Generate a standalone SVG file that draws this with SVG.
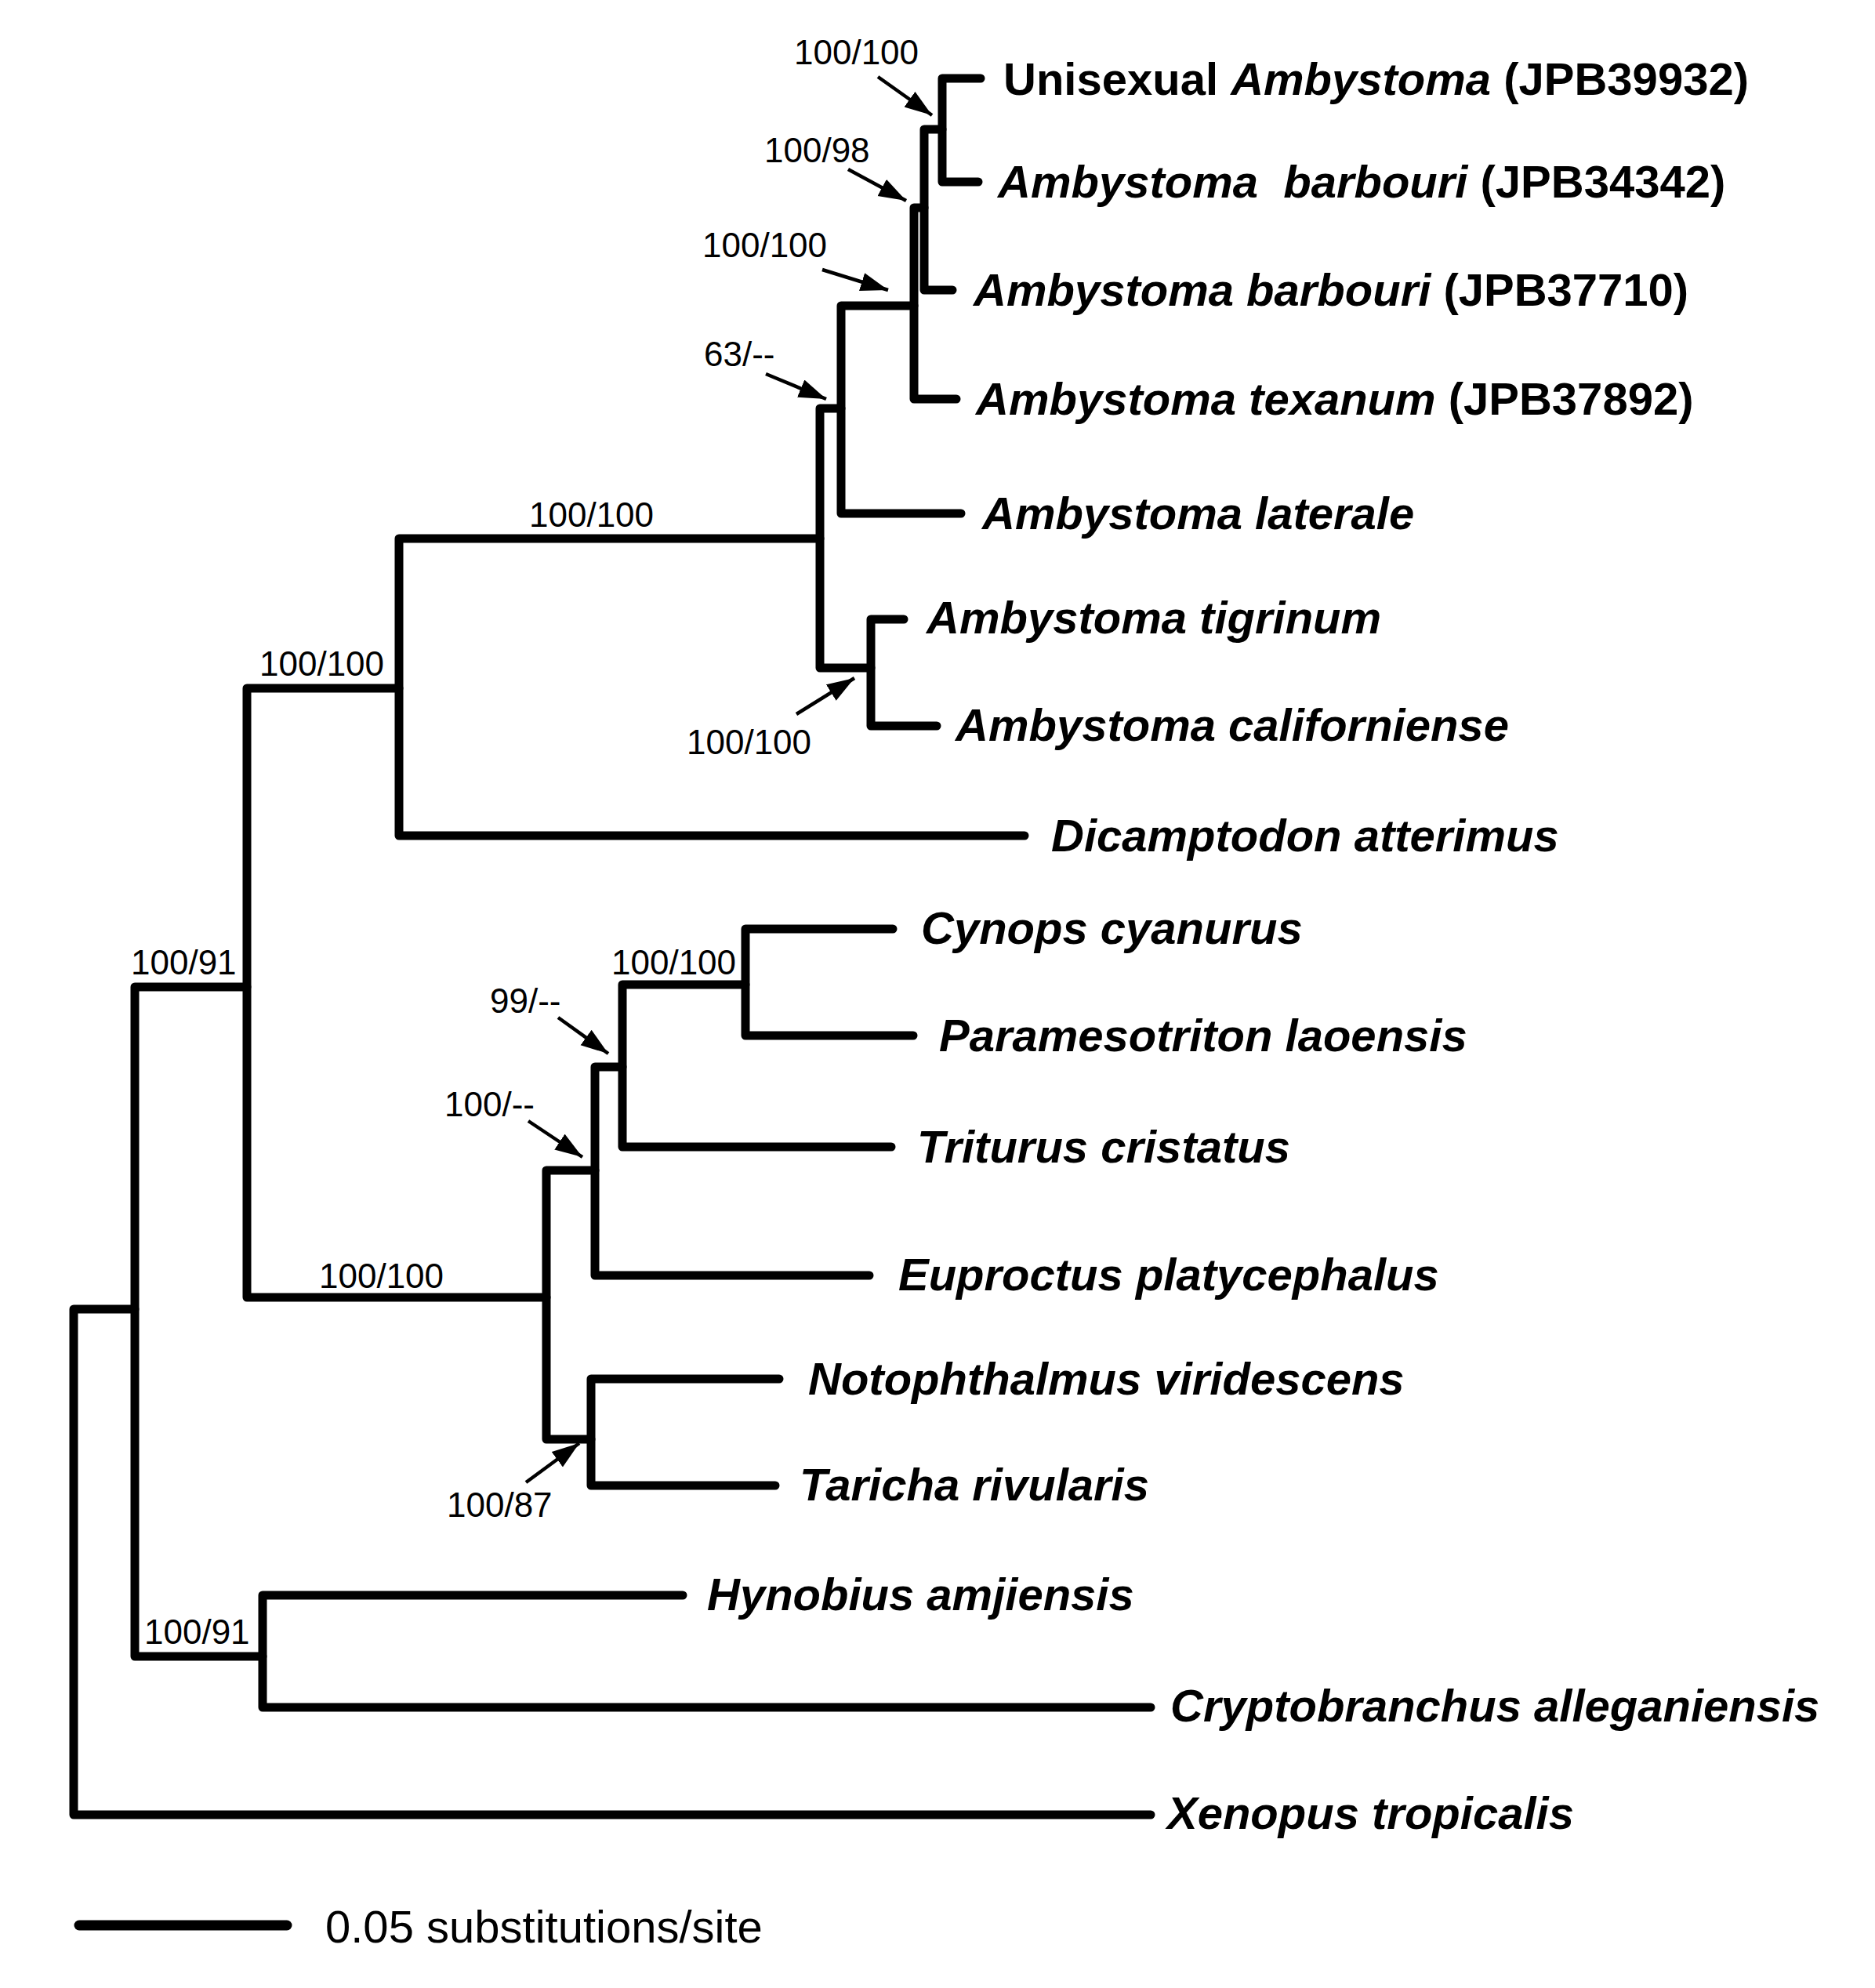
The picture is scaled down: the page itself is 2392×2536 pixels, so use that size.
<svg xmlns="http://www.w3.org/2000/svg" width="2392" height="2536" viewBox="0 0 2392 2536">
<style>
.br{fill:none;stroke:#000;stroke-width:11;stroke-linecap:round;stroke-linejoin:round}
.ar{fill:none;stroke:#000;stroke-width:4.5}
.tip{font-family:"Liberation Sans",Arial,sans-serif;font-size:58px;font-weight:bold;font-style:italic;fill:#000;white-space:pre}
.tip .n{font-style:normal}
.sup{font-family:"Liberation Sans",Arial,sans-serif;font-size:44px;fill:#000}
.scale{font-family:"Liberation Sans",Arial,sans-serif;font-size:58px;fill:#000}
</style>
<defs>
<marker id="ah" markerUnits="userSpaceOnUse" markerWidth="38" markerHeight="28" refX="35" refY="12" orient="auto">
<path d="M0,0 L35,12 L0,24 Z" fill="#000"/>
</marker>
</defs>
<rect width="2392" height="2536" fill="#fff"/>
<g id="connectors">
<path class="br" d="M172,1670 H94 V2315 H1468"/>
<path class="br" d="M315,1259 H172 V2113 H335"/>
<path class="br" d="M509,878 H315 V1655 H697"/>
<path class="br" d="M1046,687 H509 V1066 H1307"/>
<path class="br" d="M1073,521 H1046 V852 H1111"/>
<path class="br" d="M1166,390 H1073 V655 H1226"/>
<path class="br" d="M1179,265 H1166 V509 H1220"/>
<path class="br" d="M1202,165 H1179 V370 H1215"/>
<path class="br" d="M1251,100 H1202 V232 H1248"/>
<path class="br" d="M1153,790 H1111 V926 H1195"/>
<path class="br" d="M759,1493 H697 V1836 H754"/>
<path class="br" d="M794,1361 H759 V1627 H1109"/>
<path class="br" d="M951,1256 H794 V1463 H1137"/>
<path class="br" d="M1139,1185 H951 V1321 H1165"/>
<path class="br" d="M994,1759 H754 V1895 H989"/>
<path class="br" d="M871,2035 H335 V2178 H1468"/>
<line class="ar" x1="1120" y1="98" x2="1189" y2="147" marker-end="url(#ah)"/>
<line class="ar" x1="1082" y1="216" x2="1156" y2="256" marker-end="url(#ah)"/>
<line class="ar" x1="1049" y1="344" x2="1133" y2="370" marker-end="url(#ah)"/>
<line class="ar" x1="977" y1="477" x2="1054" y2="509" marker-end="url(#ah)"/>
<line class="ar" x1="1016" y1="911" x2="1090" y2="865" marker-end="url(#ah)"/>
<line class="ar" x1="712" y1="1298" x2="776" y2="1344" marker-end="url(#ah)"/>
<line class="ar" x1="674" y1="1430" x2="743" y2="1476" marker-end="url(#ah)"/>
<line class="ar" x1="671" y1="1891" x2="739" y2="1841" marker-end="url(#ah)"/>
</g>
<g id="tip-unisexual"><text class="tip" x="1280" y="121"><tspan class="n">Unisexual </tspan>Ambystoma<tspan class="n"> (JPB39932)</tspan></text></g>
<g id="tip-barbouri-34342"><text class="tip" x="1273" y="252">Ambystoma  barbouri<tspan class="n"> (JPB34342)</tspan></text></g>
<g id="tip-barbouri-37710"><text class="tip" x="1242" y="390">Ambystoma barbouri<tspan class="n"> (JPB37710)</tspan></text></g>
<g id="tip-texanum"><text class="tip" x="1245" y="529">Ambystoma texanum<tspan class="n"> (JPB37892)</tspan></text></g>
<g id="tip-laterale"><text class="tip" x="1253" y="675">Ambystoma laterale</text></g>
<g id="tip-tigrinum"><text class="tip" x="1182" y="808">Ambystoma tigrinum</text></g>
<g id="tip-californiense"><text class="tip" x="1219" y="945">Ambystoma californiense</text></g>
<g id="tip-dicamptodon"><text class="tip" x="1341" y="1086">Dicamptodon atterimus</text></g>
<g id="tip-cynops"><text class="tip" x="1175" y="1204">Cynops cyanurus</text></g>
<g id="tip-paramesotriton"><text class="tip" x="1198" y="1341">Paramesotriton laoensis</text></g>
<g id="tip-triturus"><text class="tip" x="1170" y="1483">Triturus cristatus</text></g>
<g id="tip-euproctus"><text class="tip" x="1146" y="1646">Euproctus platycephalus</text></g>
<g id="tip-notophthalmus"><text class="tip" x="1031" y="1779">Notophthalmus viridescens</text></g>
<g id="tip-taricha"><text class="tip" x="1020" y="1914">Taricha rivularis</text></g>
<g id="tip-hynobius"><text class="tip" x="902" y="2054">Hynobius amjiensis</text></g>
<g id="tip-cryptobranchus"><text class="tip" x="1493" y="2196">Cryptobranchus alleganiensis</text></g>
<g id="tip-xenopus"><text class="tip" x="1489" y="2333">Xenopus tropicalis</text></g>
<g id="support-labels">
<text class="sup" x="1013" y="82">100/100</text>
<text class="sup" x="975" y="207">100/98</text>
<text class="sup" x="896" y="328">100/100</text>
<text class="sup" x="898" y="467">63/--</text>
<text class="sup" x="675" y="672">100/100</text>
<text class="sup" x="331" y="862">100/100</text>
<text class="sup" x="876" y="962">100/100</text>
<text class="sup" x="167" y="1243">100/91</text>
<text class="sup" x="780" y="1243">100/100</text>
<text class="sup" x="625" y="1292">99/--</text>
<text class="sup" x="567" y="1424">100/--</text>
<text class="sup" x="407" y="1643">100/100</text>
<text class="sup" x="570" y="1935">100/87</text>
<text class="sup" x="184" y="2097">100/91</text>
</g>
<g id="scale-bar">
<path class="br" d="M101,2456 H366" style="stroke-width:13"/>
<text class="scale" x="415" y="2478">0.05 substitutions/site</text>
</g>
</svg>
